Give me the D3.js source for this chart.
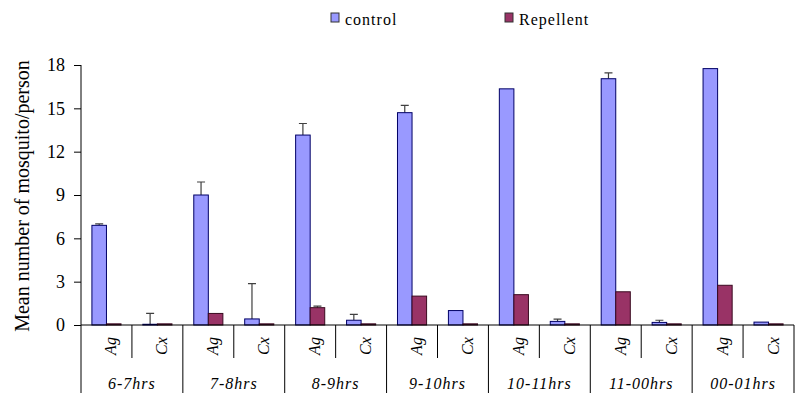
<!DOCTYPE html>
<meta charset="utf-8">
<head>
<style>
  body { margin: 0; background: #fff; }
  text { font-family: "Liberation Serif", "Times New Roman", serif; fill: #000; }
</style>
</head>
<script src="https://d3js.org/d3.v7.min.js"></script>
<div id="my_dataviz"></div>
<script>

// time slots and species
var groups = ["6-7hrs", "7-8hrs", "8-9hrs", "9-10hrs", "10-11hrs", "11-00hrs", "00-01hrs"];
var species = ["Ag", "Cx"];
var seriesNames = ["control", "Repellent"];
var yTicks = [0, 3, 6, 9, 12, 15, 18];

// means, in order Ag,Cx for each time slot
var controlMean   = [6.9, 0.05, 9.0, 0.42, 13.15, 0.33, 14.7, 1.0, 16.35, 0.25, 17.05, 0.18, 17.75, 0.2];
var controlErr    = [0.1, 0.75, 0.9, 2.45, 0.8, 0.4, 0.5, 0, 0, 0.15, 0.4, 0.15, 0, 0];
var repellentMean = [0.08, 0.08, 0.8, 0.08, 1.2, 0.08, 2.0, 0.08, 2.1, 0.08, 2.3, 0.08, 2.75, 0.08];
var repellentErr  = [0, 0, 0, 0, 0.1, 0, 0, 0, 0, 0, 0, 0, 0, 0];

var colors = { control: "#9999ff", Repellent: "#993366" };

var width = 805, height = 409;
var mLeft = 81, mRight = 794, mTop = 65, mBottom = 325;

var svg = d3.select("#my_dataviz")
  .append("svg")
    .attr("width", width)
    .attr("height", height);

// build rows
var data = [];
groups.forEach(function(g, gi) {
  species.forEach(function(s, si) {
    var i = gi * 2 + si;
    data.push({ key: g + "|" + s, group: g, sp: s, values: [
      { series: "control", v: controlMean[i], e: controlErr[i] },
      { series: "Repellent", v: repellentMean[i], e: repellentErr[i] }
    ]});
  });
});

var x0 = d3.scaleBand()
  .domain(data.map(function(d) { return d.key; }))
  .range([mLeft, mRight]);

var x1 = d3.scaleBand()
  .domain(seriesNames)
  .range([0, x0.bandwidth()])
  .paddingOuter(0.75);

var y = d3.scaleLinear()
  .domain([0, 18])
  .range([mBottom, mTop]);

// Y axis
var yAxis = svg.append("g")
  .attr("transform", "translate(" + mLeft + ",0)")
  .call(d3.axisLeft(y).tickValues(yTicks).tickSize(7).tickPadding(9));
yAxis.select(".domain").remove();
yAxis.selectAll("text").style("font-size", "18px").style("font-family", "Liberation Serif");
yAxis.selectAll("line").attr("stroke", "#000");

svg.append("line")
  .attr("x1", mLeft).attr("x2", mLeft)
  .attr("y1", mTop).attr("y2", 393)
  .attr("stroke", "#000");

svg.append("text")
  .attr("transform", "translate(29,196) rotate(-90)")
  .attr("text-anchor", "middle")
  .style("font-size", "20px")
  .text("Mean number of mosquito/person");

// bars
var cat = svg.selectAll(".cat")
  .data(data)
  .enter()
  .append("g")
    .attr("class", "cat")
    .attr("transform", function(d) { return "translate(" + x0(d.key) + ",0)"; });

// error bars (drawn behind)
cat.selectAll(".err")
  .data(function(d) { return d.values.filter(function(v) { return v.e > 0; }); })
  .enter()
  .append("path")
    .attr("class", "err")
    .attr("fill", "none")
    .attr("stroke", "#404040")
    .attr("stroke-width", 1.2)
    .attr("d", function(v) {
      var cx = x1(v.series) + x1.bandwidth() / 2;
      var yt = y(v.v + v.e);
      return "M" + cx + "," + y(v.v) + "V" + yt + "M" + (cx - 4) + "," + yt + "H" + (cx + 4);
    });

cat.selectAll("rect")
  .data(function(d) { return d.values; })
  .enter()
  .append("rect")
    .attr("x", function(v) { return x1(v.series); })
    .attr("y", function(v) { return y(v.v); })
    .attr("width", x1.bandwidth())
    .attr("height", function(v) { return mBottom - y(v.v); })
    .attr("fill", function(v) { return colors[v.series]; })
    .attr("stroke", function(v) { return v.series === "control" ? "#000066" : "#3a0a20"; })
    .attr("stroke-width", 1);

// X axis line
svg.append("line")
  .attr("x1", mLeft).attr("x2", mRight)
  .attr("y1", mBottom).attr("y2", mBottom)
  .attr("stroke", "#000");

// separators
data.forEach(function(d) {
  var xe = x0(d.key) + x0.bandwidth();
  svg.append("line")
    .attr("x1", xe).attr("x2", xe)
    .attr("y1", mBottom).attr("y2", d.sp === "Cx" ? 393 : 358)
    .attr("stroke", "#000");
});

// species labels
cat.append("text")
  .attr("transform", "translate(" + (x0.bandwidth() / 2 + 10) + ",346) rotate(-90)")
  .attr("text-anchor", "middle")
  .style("font-size", "16px")
  .style("font-style", "italic")
  .text(function(d) { return d.sp; });

// group labels
svg.selectAll(".glabel")
  .data(groups)
  .enter()
  .append("text")
    .attr("class", "glabel")
    .attr("x", function(g) { return x0(g + "|Ag"); })
    .attr("dx", x0.bandwidth())
    .attr("y", 389)
    .attr("text-anchor", "middle")
    .style("font-size", "16px")
    .style("font-style", "italic")
    .style("letter-spacing", "1px")
    .text(function(g) { return g; });

// legend
var legX = [331, 505];
var leg = svg.selectAll(".leg")
  .data(seriesNames)
  .enter()
  .append("g")
    .attr("class", "leg")
    .attr("transform", function(d, i) { return "translate(" + legX[i] + ",13)"; });
leg.append("rect")
  .attr("width", 8).attr("height", 9)
  .attr("fill", function(d) { return colors[d]; })
  .attr("stroke", "#333");
leg.append("text")
  .attr("x", 14).attr("y", 12)
  .style("font-size", "16px")
  .style("letter-spacing", "1px")
  .text(function(d) { return d; });

</script>
